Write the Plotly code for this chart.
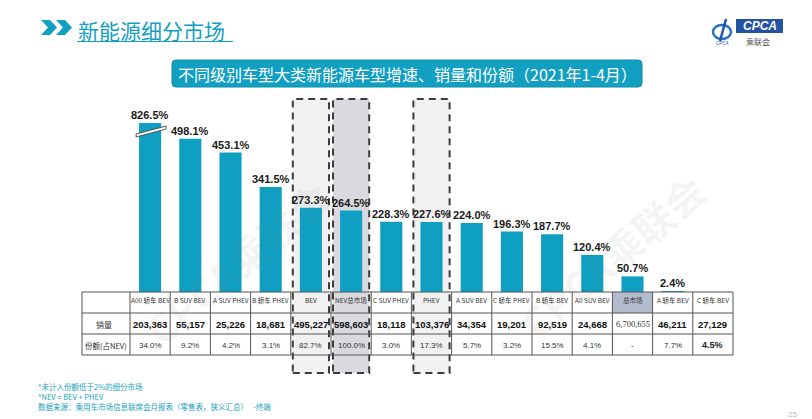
import plotly.graph_objects as go

# ---------------- data ----------------
categories = ["A00 轿车 BEV", "B SUV BEV", "A SUV PHEV", "B 轿车 PHEV", "BEV", "NEV总市场",
              "C SUV PHEV", "PHEV", "A SUV BEV", "C 轿车 PHEV", "B 轿车 BEV", "A0 SUV BEV",
              "总市场", "A 轿车 BEV", "C 轿车 BEV"]
growth = [826.5, 498.1, 453.1, 341.5, 273.3, 264.5, 228.3, 227.6, 224.0, 196.3, 187.7, 120.4,
          50.7, 2.4, None]
sales = [203363, 55157, 25226, 18681, 495227, 598603, 18118, 103376, 34354, 19201, 92519, 24668,
         6700655, 46211, 27129]
share = [34.0, 9.2, 4.2, 3.1, 82.7, 100.0, 3.0, 17.3, 5.7, 3.2, 15.5, 4.1, None, 7.7, 4.5]
row_labels = ["销量", "份额(占NEV)"]
highlight_fill = {"BEV": "#f1f1f1", "NEV总市场": "#d9d9df", "PHEV": "#f1f1f1"}
title_main = "新能源细分市场"
title_box = "不同级别车型大类新能源车型增速、销量和份额（2021年1-4月）"
footnotes = ["*未计入份额低于2%的细分市场",
             "*NEV = BEV + PHEV",
             "数据来源：乘用车市场信息联席会月报表（零售表，狭义汇总）   -终端"]

# ---------------- layout helpers ----------------
W, H = 812, 419
X0, X1 = 130, 733          # table/bar columns span (px)
TOP, BASE = 123, 292       # plot top (break) and bar baseline (px)
YMAX = 549
ROWS = [292, 313, 334, 355]
TL = 82                    # table left edge
n = len(categories)
colw = (X1 - X0) / n
TEAL = "#12a0c2"
BAR = "#0e9fc3"
CJK = "Noto Sans CJK SC"
NUMF = "Liberation Sans, Noto Sans CJK SC"


def px(x):
    return x / W


def py(y):
    return 1 - y / H


def path(points, close=True):
    s = "M" + " L".join(f"{px(x):.5f},{py(y):.5f}" for x, y in points)
    return s + (" Z" if close else "")


def note(x, y, text, font, xanchor="center", yanchor="middle", **kw):
    d = dict(x=px(x), y=py(y), xref="paper", yref="paper", text=text, showarrow=False,
             xanchor=xanchor, yanchor=yanchor, font=font)
    d.update(kw)
    return d


fig = go.Figure()
fig.add_trace(go.Bar(
    x=list(range(n)), y=growth, marker=dict(color=BAR, line=dict(width=0)),
    hoverinfo="skip", showlegend=False))

shapes = []
ann = []

# highlighted columns (shading + dashed borders)
for i, c in enumerate(categories):
    if c in highlight_fill:
        l = X0 + i * colw + 2
        r = X0 + (i + 1) * colw - 2
        shapes.append(dict(type="rect", xref="paper", yref="paper", x0=px(l), x1=px(r),
                           y0=py(373), y1=py(99), fillcolor=highlight_fill[c],
                           line=dict(width=0), layer="below"))
        shapes.append(dict(type="rect", xref="paper", yref="paper", x0=px(l), x1=px(r),
                           y0=py(373), y1=py(99), fillcolor="rgba(0,0,0,0)",
                           line=dict(color="#3d3d3d", width=2, dash="7px,5px"), layer="above"))

# header cell fill for 总市场
i_tot = categories.index("总市场")
shapes.append(dict(type="rect", xref="paper", yref="paper",
                   x0=px(X0 + i_tot * colw), x1=px(X0 + (i_tot + 1) * colw),
                   y0=py(ROWS[1]), y1=py(ROWS[0]), fillcolor="#b3bccc",
                   line=dict(width=0), layer="below"))

# table grid
for yv in ROWS:
    shapes.append(dict(type="line", xref="paper", yref="paper", x0=px(TL), x1=px(X1),
                       y0=py(yv), y1=py(yv), line=dict(color="#555555", width=1)))
for xv in [TL] + [X0 + k * colw for k in range(n + 1)]:
    shapes.append(dict(type="line", xref="paper", yref="paper", x0=px(xv), x1=px(xv),
                       y0=py(ROWS[0]), y1=py(ROWS[-1]), line=dict(color="#555555", width=1)))

# axis break mark on clipped bar
for i, v in enumerate(growth):
    if v is not None and v > YMAX:
        cx = X0 + (i + 0.5) * colw
        shapes.append(dict(type="path", xref="paper", yref="paper",
                           path=path([(cx - 14, 134), (cx + 16, 126), (cx + 16, 129), (cx - 14, 137)]),
                           fillcolor="white", line=dict(color="#555555", width=1)))

# bar labels
for i, v in enumerate(growth):
    if v is None:
        continue
    ann.append(dict(x=i, y=min(v, YMAX), xref="x", yref="y", text=f"<b>{v:.1f}%</b>",
                    showarrow=False, xanchor="center", yanchor="bottom",
                    font=dict(size=11, color="#1a1a1a", family=NUMF)))

# table text
for i, c in enumerate(categories):
    cx = X0 + (i + 0.5) * colw
    ann.append(note(cx, 300, c, dict(size=6.5, color="#333333", family=CJK)))
    s = sales[i]
    if c == "总市场":
        stext = f"{s:,}"
        sfont = dict(size=8.5, color="#333333", family="Liberation Serif, " + CJK)
    else:
        stext = f"<b>{s:,}</b>"
        sfont = dict(size=9.5, color="#111111", family=NUMF)
    ann.append(note(cx, 324, stext, sfont))
    sh = share[i]
    if sh is None:
        stx, sf = "-", dict(size=8, color="#333333", family=NUMF)
    elif i == n - 1:
        stx, sf = f"<b>{sh:.1f}%</b>", dict(size=9, color="#222222", family=NUMF)
    else:
        stx, sf = f"{sh:.1f}%", dict(size=8, color="#333333", family=NUMF)
    ann.append(note(cx, 345, stx, sf))

ann.append(note(104, 324, row_labels[0], dict(size=8, color="#333333", family=CJK)))
ann.append(note(106, 345, row_labels[1], dict(size=7.5, color="#333333", family=CJK)))

# watermarks
for wx, wy in [(238, 262), (612, 256)]:
    ann.append(note(wx, wy, "<b>CPCA乘联会</b>", dict(size=40, color="rgba(140,140,140,0.09)", family=CJK),
                    textangle=-40))

# header: chevrons + title + underline
for dx in (0, 15):
    shapes.append(dict(type="path", xref="paper", yref="paper",
                       path=path([(41 + dx, 20), (50 + dx, 20), (57 + dx, 27.5), (50 + dx, 35),
                                  (41 + dx, 35), (48 + dx, 27.5)]),
                       fillcolor=TEAL, line=dict(width=0)))
ann.append(note(76, 30, title_main, dict(size=21, color=TEAL, family=CJK), xanchor="left"))
shapes.append(dict(type="line", xref="paper", yref="paper", x0=px(77), x1=px(233), y0=py(41.5),
                   y1=py(41.5), line=dict(color=TEAL, width=1.2)))

# title box (rounded)
bx0, bx1, by0, by1, rr = 172, 642, 60, 87, 4
shapes.append(dict(type="path", xref="paper", yref="paper",
                   path=(f"M{px(bx0 + rr)},{py(by0)} L{px(bx1 - rr)},{py(by0)} "
                         f"Q{px(bx1)},{py(by0)} {px(bx1)},{py(by0 + rr)} L{px(bx1)},{py(by1 - rr)} "
                         f"Q{px(bx1)},{py(by1)} {px(bx1 - rr)},{py(by1)} L{px(bx0 + rr)},{py(by1)} "
                         f"Q{px(bx0)},{py(by1)} {px(bx0)},{py(by1 - rr)} L{px(bx0)},{py(by0 + rr)} "
                         f"Q{px(bx0)},{py(by0)} {px(bx0 + rr)},{py(by0)} Z"),
                   fillcolor=TEAL, line=dict(color="#0f8cab", width=1)))
ann.append(note((bx0 + bx1) / 2, 73.5, title_box, dict(size=16, color="white", family=CJK)))

# logo
shapes.append(dict(type="rect", xref="paper", yref="paper", x0=px(736), x1=px(783), y0=py(33),
                   y1=py(19), fillcolor="#2453a3", line=dict(width=0)))
ann.append(note(759.5, 26, "<b><i>CPCA</i></b>", dict(size=12, color="white", family="Liberation Sans")))
ann.append(note(758, 41, "乘联会", dict(size=8, color="#555555", family=CJK)))
shapes.append(dict(type="circle", xref="paper", yref="paper", x0=px(713), x1=px(731), y0=py(39),
                   y1=py(25), line=dict(color="#2a72c6", width=2.5)))
shapes.append(dict(type="line", xref="paper", yref="paper", x0=px(720), x1=px(726), y0=py(41),
                   y1=py(19), line=dict(color="#1d56a8", width=2.5)))
ann.append(note(722, 44, "<i>CPCA</i>", dict(size=4.5, color="#2453a3", family="Liberation Sans")))

# footnotes
for k, t in enumerate(footnotes):
    ann.append(note(37, 386.5 + k * 10, t, dict(size=7.5, color="#1a9fc0", family=CJK),
                    xanchor="left", borderpad=0))
ann.append(note(792, 414, "25", dict(size=8, color="#bbbbbb", family=NUMF)))

fig.update_layout(
    width=W, height=H, margin=dict(l=0, r=0, t=0, b=0),
    paper_bgcolor="white", plot_bgcolor="rgba(0,0,0,0)",
    bargap=0.45, showlegend=False,
    xaxis=dict(domain=[px(X0), px(X1)], range=[-0.5, n - 0.5], visible=False, fixedrange=True),
    yaxis=dict(domain=[py(BASE), py(TOP)], range=[0, YMAX], visible=False, fixedrange=True),
    shapes=shapes, annotations=ann,
)
fig.write_html("out.html", config={"displayModeBar": False},
               post_script="document.body.style.margin='0';document.body.style.overflow='hidden';")
